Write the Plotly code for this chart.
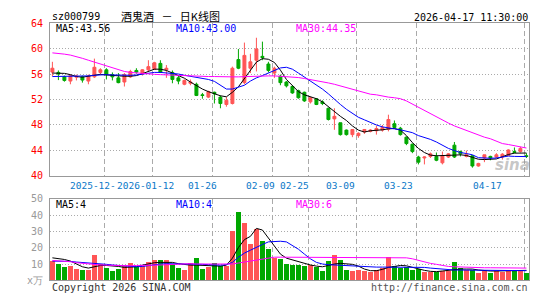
import plotly.graph_objects as go

# ---------------- data ----------------
dates = [
    "2025-12-16", "2025-12-17", "2025-12-18", "2025-12-19", "2025-12-22", "2025-12-23", "2025-12-24",
    "2025-12-25", "2025-12-26", "2025-12-29", "2025-12-30", "2025-12-31", "2026-01-05", "2026-01-06",
    "2026-01-07", "2026-01-08", "2026-01-09", "2026-01-12", "2026-01-13", "2026-01-14", "2026-01-15",
    "2026-01-16", "2026-01-19", "2026-01-20", "2026-01-21", "2026-01-22", "2026-01-23", "2026-01-26",
    "2026-01-27", "2026-01-28", "2026-01-29", "2026-01-30", "2026-02-02", "2026-02-03", "2026-02-04",
    "2026-02-05", "2026-02-06", "2026-02-09", "2026-02-10", "2026-02-11", "2026-02-12", "2026-02-13",
    "2026-02-24", "2026-02-25", "2026-02-26", "2026-02-27", "2026-03-02", "2026-03-03", "2026-03-04",
    "2026-03-05", "2026-03-06", "2026-03-09", "2026-03-10", "2026-03-11", "2026-03-12", "2026-03-13",
    "2026-03-16", "2026-03-17", "2026-03-18", "2026-03-19", "2026-03-20", "2026-03-23", "2026-03-24",
    "2026-03-25", "2026-03-26", "2026-03-27", "2026-03-30", "2026-03-31", "2026-04-01", "2026-04-02",
    "2026-04-03", "2026-04-07", "2026-04-08", "2026-04-09", "2026-04-10", "2026-04-13", "2026-04-14",
    "2026-04-15", "2026-04-16", "2026-04-17",
]

open_ = [56.31, 56.26, 55.56, 54.90, 55.51, 55.56, 54.90, 55.56, 56.26, 56.67,
         55.91, 55.40, 54.75, 55.56, 56.57, 56.06, 56.67, 56.77, 57.68, 56.67,
         56.26, 55.40, 54.39, 54.55, 54.39, 52.73, 52.37, 53.13, 52.37, 51.21,
         51.36, 58.28, 54.65, 56.92, 58.18, 58.79, 57.58, 56.16, 55.66, 54.75,
         54.04, 53.38, 53.13, 51.62, 52.12, 51.62, 50.61, 48.94, 48.33, 47.17,
         46.46, 46.31, 46.87, 46.97, 47.07, 47.17, 47.32, 48.18, 47.47, 46.06,
         44.95, 42.93, 42.78, 43.03, 43.03, 42.02, 42.93, 44.80, 43.79, 43.03,
         43.13, 41.52, 42.78, 43.03, 42.93, 42.93, 43.18, 43.79, 43.79, 43.13]
high = [57.93, 56.57, 55.76, 55.91, 55.91, 55.76, 55.91, 58.43, 56.92, 56.92,
        56.26, 56.16, 56.16, 56.67, 56.92, 56.77, 58.18, 57.93, 58.18, 57.42,
        56.57, 55.76, 55.15, 55.15, 54.65, 53.03, 53.38, 53.23, 52.63, 52.37,
        57.17, 59.95, 60.96, 59.19, 61.72, 61.11, 57.93, 57.17, 55.91, 54.90,
        54.24, 53.54, 53.23, 52.37, 52.22, 51.87, 50.71, 50.61, 48.33, 47.27,
        47.32, 46.82, 47.32, 47.32, 47.83, 47.98, 49.60, 48.69, 47.68, 46.16,
        45.05, 43.13, 43.03, 43.64, 43.64, 43.79, 43.54, 45.30, 43.94, 43.94,
        43.23, 42.02, 43.28, 43.13, 43.54, 43.54, 44.14, 44.44, 44.55, 43.54]
low = [55.66, 55.05, 54.80, 54.39, 55.00, 54.65, 54.39, 55.40, 55.91, 55.15,
       55.00, 54.55, 54.04, 55.40, 56.06, 55.76, 56.41, 56.67, 56.16, 55.40,
       54.55, 54.39, 54.24, 54.24, 52.53, 52.12, 52.22, 51.36, 50.61, 50.86,
       51.21, 56.77, 54.39, 56.16, 56.41, 58.18, 56.26, 55.40, 54.24, 53.89,
       52.88, 52.12, 51.62, 51.36, 51.11, 51.11, 48.69, 47.22, 46.31, 46.31,
       46.06, 45.96, 46.57, 46.82, 46.46, 46.92, 46.97, 47.47, 46.31, 44.80,
       43.54, 41.77, 41.77, 42.78, 42.27, 41.77, 42.78, 42.78, 43.03, 42.88,
       41.26, 41.41, 42.12, 42.42, 42.78, 42.53, 43.13, 43.54, 43.64, 42.78]
close = [56.92, 56.01, 55.00, 55.76, 55.66, 55.05, 55.66, 57.07, 56.67, 55.91,
         55.56, 54.65, 55.91, 56.41, 56.31, 56.67, 57.17, 57.78, 56.26, 56.92,
         55.15, 54.90, 55.00, 54.75, 52.63, 52.63, 53.23, 52.88, 51.36, 51.87,
         56.92, 56.92, 58.94, 57.93, 59.95, 58.59, 56.57, 56.92, 54.65, 54.14,
         53.03, 52.27, 51.77, 52.27, 51.21, 51.36, 48.84, 49.34, 46.46, 46.46,
         47.27, 46.67, 47.27, 47.17, 47.42, 47.58, 48.84, 47.58, 46.46, 45.05,
         43.79, 42.12, 42.93, 43.43, 42.42, 43.13, 43.43, 42.93, 43.43, 43.28,
         41.52, 41.92, 43.28, 42.78, 43.28, 43.38, 44.04, 43.64, 44.29, 43.03]

ma5 = [56.16, 56.16, 56.11, 55.91, 55.61, 55.51, 55.66, 55.91, 55.96, 55.86,
       55.76, 55.76, 55.66, 55.66, 55.76, 56.06, 56.46, 56.77, 56.77, 56.57,
       56.16, 55.76, 55.35, 54.75, 54.14, 53.64, 53.23, 52.88, 52.58, 52.42,
       53.13, 53.99, 55.30, 56.46, 57.88, 58.43, 58.33, 57.83, 56.62, 55.15,
       54.14, 53.23, 52.73, 52.37, 52.12, 51.62, 50.86, 50.00, 49.34, 48.69,
       47.83, 47.17, 46.87, 47.07, 47.12, 47.22, 47.37, 47.42, 47.17, 46.31,
       45.20, 44.29, 43.64, 43.23, 43.13, 43.13, 43.13, 43.23, 43.28, 43.18,
       42.88, 42.58, 42.53, 42.53, 42.63, 42.98, 43.33, 43.54, 43.54, 43.56]
ma10 = [55.61, 55.61, 55.61, 55.61, 55.61, 55.66, 55.71, 55.81, 55.91, 55.91,
        55.86, 55.81, 55.81, 55.81, 55.86, 56.01, 56.16, 56.26, 56.26, 56.21,
        56.11, 56.01, 55.81, 55.66, 55.51, 55.35, 55.15, 54.85, 54.24, 53.64,
        53.64, 53.89, 54.24, 54.90, 55.40, 55.76, 56.16, 56.67, 56.97, 57.07,
        56.77, 56.16, 55.56, 54.90, 54.24, 53.64, 52.88, 52.12, 51.21, 50.45,
        49.80, 49.19, 48.79, 48.33, 47.98, 47.68, 47.47, 47.37, 47.22, 47.02,
        46.77, 46.31, 46.06, 45.71, 45.30, 44.80, 44.29, 43.94, 43.64, 43.48,
        43.28, 42.83, 42.73, 42.73, 42.78, 42.98, 43.08, 43.03, 43.03, 43.00]
ma30 = [59.34, 59.29, 59.14, 58.99, 58.79, 58.48, 58.18, 57.88, 57.58, 57.22,
        56.92, 56.67, 56.41, 56.26, 56.16, 56.11, 56.06, 55.96, 55.91, 55.86,
        55.81, 55.76, 55.76, 55.71, 55.66, 55.61, 55.61, 55.61, 55.56, 55.56,
        55.56, 55.56, 55.61, 55.66, 55.66, 55.71, 55.71, 55.71, 55.66, 55.61,
        55.56, 55.45, 55.30, 55.15, 54.95, 54.80, 54.60, 54.39, 54.14, 53.89,
        53.64, 53.38, 53.13, 52.83, 52.73, 52.53, 52.37, 52.27, 52.12, 51.77,
        51.26, 50.71, 50.20, 49.70, 49.19, 48.69, 48.28, 47.83, 47.47, 47.07,
        46.72, 46.31, 46.06, 45.81, 45.45, 45.05, 44.90, 44.70, 44.55, 44.35]

volume = [11.8, 9.8, 8.3, 8.7, 6.9, 6.3, 6.3, 15.7, 9.8, 7.5,
          5.7, 6.9, 8.7, 10.4, 8.3, 8.7, 11.2, 12.2, 12.8, 12.2,
          9.8, 7.5, 6.3, 10.4, 14.0, 6.9, 8.1, 10.4, 9.1, 8.7,
          30.1, 42.3, 35.2, 22.4, 31.5, 24.0, 19.5, 13.8, 13.4, 10.2,
          9.3, 9.3, 8.7, 9.3, 7.9, 5.7, 11.6, 15.7, 12.2, 6.3,
          5.9, 6.3, 5.7, 5.3, 6.3, 7.5, 14.6, 9.0, 7.4, 8.3,
          6.3, 7.1, 5.2, 5.2, 5.3, 5.7, 5.9, 11.1, 7.5, 6.3,
          6.2, 4.8, 6.0, 4.7, 5.6, 5.0, 6.3, 5.6, 5.6, 4.7]
vol_ma5 = [13.8, 13.4, 12.8, 11.8, 9.8, 8.3, 7.5, 8.5, 9.1, 9.1,
           8.9, 8.5, 7.9, 8.3, 8.3, 9.3, 10.2, 10.8, 11.0, 11.2,
           11.0, 10.2, 9.6, 9.3, 9.3, 9.1, 8.7, 8.7, 8.7, 9.3,
           13.6, 20.1, 25.0, 27.0, 31.9, 30.9, 26.0, 21.1, 16.1, 13.6,
           12.6, 11.6, 10.2, 9.4, 8.7, 8.3, 9.1, 10.0, 10.4, 10.2,
           9.8, 8.7, 6.9, 5.9, 5.9, 6.7, 7.9, 8.5, 9.1, 8.9,
           7.9, 6.9, 6.1, 5.5, 5.3, 5.7, 6.1, 6.7, 6.9, 6.9,
           6.9, 6.3, 5.9, 5.7, 5.7, 5.7, 5.9, 6.1, 6.1, 6.1]
vol_ma10 = [11.8, 11.8, 11.8, 11.6, 11.2, 11.0, 10.6, 10.4, 10.2, 9.8,
            9.4, 9.1, 8.7, 8.5, 8.3, 8.5, 9.1, 9.6, 10.0, 10.2,
            10.2, 10.2, 10.0, 9.8, 9.8, 9.8, 9.6, 9.4, 9.3, 9.6,
            11.0, 14.2, 16.7, 18.5, 20.5, 22.0, 23.6, 24.0, 24.0, 23.6,
            21.5, 19.1, 16.1, 13.2, 11.0, 10.0, 9.6, 9.4, 9.3, 8.9,
            8.7, 8.3, 8.1, 7.9, 8.1, 8.1, 8.1, 8.1, 7.9, 7.9,
            7.9, 7.9, 7.9, 7.5, 7.1, 6.7, 6.5, 6.3, 6.3, 6.3,
            6.3, 6.3, 6.1, 6.1, 5.9, 5.9, 5.9, 5.9, 5.9, 5.9]
vol_ma30 = [12.2, 12.0, 11.8, 11.4, 10.8, 10.4, 10.0, 9.8, 9.4, 9.3,
            9.1, 8.9, 8.7, 8.9, 9.1, 9.3, 9.3, 9.3, 9.4, 9.6,
            9.8, 10.0, 10.2, 10.2, 10.0, 10.0, 9.8, 9.8, 9.8, 9.8,
            10.0, 10.6, 11.2, 11.8, 12.4, 13.0, 13.8, 14.2, 14.2, 14.2,
            14.2, 14.2, 14.2, 14.2, 14.2, 14.2, 14.2, 14.2, 14.2, 14.2,
            14.0, 13.8, 13.8, 13.8, 13.8, 13.8, 13.8, 13.8, 13.8, 13.8,
            13.2, 12.2, 11.2, 10.4, 9.8, 9.1, 8.5, 8.3, 8.1, 7.9,
            7.9, 7.7, 7.7, 7.7, 7.7, 7.7, 7.7, 7.7, 7.7, 7.5]

tick_dates = ["2025-12-29", "2026-01-12", "2026-01-26", "2026-02-09",
              "2026-02-25", "2026-03-09", "2026-03-23", "2026-04-17"]
tick_labels = ["2025-12-", "2026-01-12", "01-26", "02-09",
               "02-25", "03-09", "03-23", "04-17"]
price_ticks = [40, 44, 48, 52, 56, 60, 64]
vol_ticks = [0, 10, 20, 30, 40, 50]
vol_tick_labels = ["x万", "10", "20", "30", "40", "50"]

title_code = "sz000799"
title_name = "酒鬼酒\u00a0\u00a0\u00a0－\u00a0\u00a0\u00a0日K线图"
timestamp = "2026-04-17 11:30:00"
ma_labels = ["MA5:43.56", "MA10:43.00", "MA30:44.35"]
vol_ma_labels = ["MA5:4", "MA10:4", "MA30:6"]

# ---------------- styling ----------------
W, H = 545, 300
MONO = "DejaVu Sans Mono"
RED, GREEN = "#ff5555", "#00a800"
MA_COLORS = ["#000000", "#0000ff", "#ff00ff"]
LABEL_SHIFT = [-13.5, -9, -12, -14, -15.5, -17.5, -20, -39]


def px(v):
    return v / W


def py(v):
    return 1 - v / H


x = list(range(len(dates)))
up = [c >= o for o, c in zip(open_, close)]
grid_pos = [dates.index(d) - 1 / 3 for d in tick_dates]

fig = go.Figure()
fig.add_trace(go.Candlestick(
    x=x, open=open_, high=high, low=low, close=close,
    increasing=dict(line=dict(color=RED, width=1), fillcolor=RED),
    decreasing=dict(line=dict(color=GREEN, width=1), fillcolor=GREEN),
    whiskerwidth=0, xaxis="x", yaxis="y", showlegend=False, hoverinfo="skip"))
for arr, col in zip([ma5, ma10, ma30], MA_COLORS):
    fig.add_trace(go.Scatter(x=x, y=arr, mode="lines", line=dict(color=col, width=1),
                             xaxis="x", yaxis="y", showlegend=False, hoverinfo="skip"))

fig.add_trace(go.Bar(x=x, y=volume, width=0.84,
                     marker=dict(color=[RED if u else GREEN for u in up], line=dict(width=0)),
                     xaxis="x2", yaxis="y2", showlegend=False, hoverinfo="skip"))
for arr, col in zip([vol_ma5, vol_ma10, vol_ma30], MA_COLORS):
    fig.add_trace(go.Scatter(x=x, y=arr, mode="lines", line=dict(color=col, width=1),
                             xaxis="x2", yaxis="y2", showlegend=False, hoverinfo="skip"))

xcommon = dict(domain=[px(50), px(529)], range=[-0.4, 79.43], showline=True, mirror=True,
               linecolor="#999999", linewidth=1, tickvals=grid_pos, showticklabels=False,
               ticks="", showgrid=True, gridcolor="#aaaaaa", gridwidth=1, griddash="5px,3px",
               zeroline=False, fixedrange=True)
ycommon = dict(showline=True, mirror=True, linecolor="#999999", linewidth=1, ticks="",
               showgrid=True, gridcolor="#aaaaaa", gridwidth=1, griddash="1px,2px",
               zeroline=False, fixedrange=True, ticklabelstandoff=4)

fig.update_layout(
    width=W, height=H, autosize=False,
    margin=dict(l=0, r=0, t=0, b=0),
    paper_bgcolor="white", plot_bgcolor="white",
    boxgap=0.3,
    bargap=0,
    xaxis=dict(anchor="y", rangeslider=dict(visible=False), **xcommon),
    xaxis2=dict(anchor="y2", **xcommon),
    yaxis=dict(anchor="x", domain=[py(176.7), py(18)], range=[40, 64], tickvals=price_ticks,
               tickfont=dict(family=MONO, size=10, color="#ff0000"), **ycommon),
    yaxis2=dict(anchor="x2", domain=[py(285.7), py(201)], range=[0, 50], tickvals=vol_ticks,
                ticktext=vol_tick_labels,
                tickfont=dict(family=MONO, size=10, color="#999999"), **ycommon),
    font=dict(family=MONO, size=10, color="#000000"),
)

ann = []
ann.append(dict(text=title_code, x=px(50), y=py(11), xanchor="left", yanchor="middle",
                font=dict(family=MONO, size=10, color="#000")))
ann.append(dict(text=title_name, x=px(170.5), y=py(10), xanchor="center", yanchor="middle",
                font=dict(family="Noto Sans CJK SC", size=11, color="#000")))
ann.append(dict(text=timestamp, x=px(529.5), y=py(12), xanchor="right", yanchor="middle",
                font=dict(family=MONO, size=10, color="#000")))
for lab, col, xl in zip(ma_labels, MA_COLORS, [54, 174, 294]):
    ann.append(dict(text=lab, x=px(xl), y=py(23.7), xanchor="left", yanchor="middle",
                    font=dict(family=MONO, size=10, color=col)))
for lab, col, xl in zip(vol_ma_labels, MA_COLORS, [54, 174, 294]):
    ann.append(dict(text=lab, x=px(xl), y=py(207), xanchor="left", yanchor="middle",
                    font=dict(family=MONO, size=10, color=col)))
for d, lab, sh in zip(tick_dates, tick_labels, LABEL_SHIFT):
    ann.append(dict(text=lab, xref="x", x=dates.index(d), xshift=sh, y=py(187),
                    xanchor="center", yanchor="middle", borderpad=0,
                    font=dict(family=MONO, size=9.5, color="#0a78c8")))
ann.append(dict(text="Copyright 2026 SINA.COM", x=px(50), y=py(293), xanchor="left",
                yanchor="middle", font=dict(family=MONO, size=10, color="#333333")))
ann.append(dict(text="http://finance.sina.com.cn", x=px(529.5), y=py(293), xanchor="right",
                yanchor="middle", font=dict(family=MONO, size=10, color="#555555")))
ann.append(dict(text="<b><i>sina</i></b>", x=px(512), y=py(166), xanchor="center",
                yanchor="middle", font=dict(family="DejaVu Sans", size=15,
                                            color="rgba(150,150,150,0.55)")))
for a in ann:
    a.setdefault("xref", "paper")
    a["yref"] = "paper"
    a["showarrow"] = False
fig.update_layout(annotations=ann)

fig.write_html("out.html")
